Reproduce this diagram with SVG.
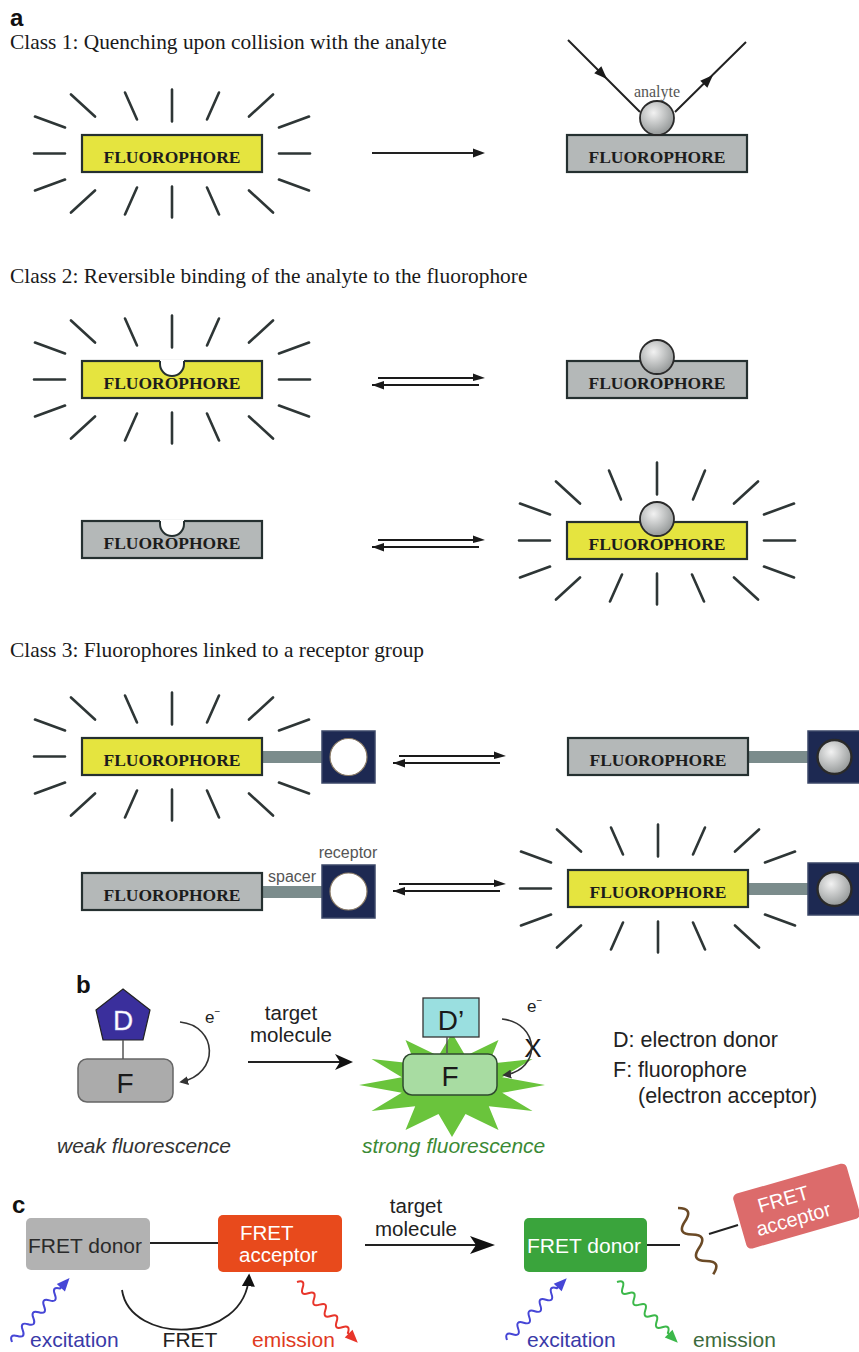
<svg xmlns="http://www.w3.org/2000/svg" width="859" height="1352" viewBox="0 0 859 1352">
<style>
.ray{fill:none;stroke:#2e3636;stroke-width:2.6;stroke-linecap:round}
.by{fill:#e5e43f;stroke:#253030;stroke-width:2.2}
.bg{fill:#b4b8b8;stroke:#253030;stroke-width:2.2}
.fl{font-family:"Liberation Serif","Times New Roman",serif;font-weight:bold;font-size:17.5px;fill:#1c1c1c;text-anchor:middle}
.hd{font-family:"Liberation Serif","Times New Roman",serif;font-size:21.4px;fill:#1a1a1a}
.ball{fill:url(#ball);stroke:#2a2a2a;stroke-width:1.8}
.spacer{fill:#7b8c8c}
.rec{fill:#1d2952;stroke:#3b4768;stroke-width:1.5}
.hole{fill:#fff;stroke:#8c7c66;stroke-width:1.2}
.notch{fill:none;stroke:#253030;stroke-width:2}
.small{font-family:"Liberation Serif","Times New Roman",serif;font-size:16px;fill:#555;text-anchor:middle}
.tag{font-family:"Liberation Sans",Arial,sans-serif;font-size:16px;fill:#555;text-anchor:middle}
.lbl{font-family:"Liberation Sans",Arial,sans-serif}
.mid{text-anchor:middle}
.panel{font-family:"Liberation Sans",Arial,sans-serif;font-weight:bold;font-size:24px;fill:#111}
.line{fill:none;stroke:#222;stroke-width:2}
</style>
<defs>
  <radialGradient id="ball" cx="0.4" cy="0.35" r="0.7">
    <stop offset="0" stop-color="#f2f2f2"/>
    <stop offset="1" stop-color="#8f9393"/>
  </radialGradient>
  <!-- glow rays around a fluorophore, centred on 0,0 -->
  <path id="rays-side" d="M-138,0 H-107 M-137,-37 L-107,-26 M137,-37 L107,-26 M-137,37 L-107,26 M137,37 L107,26 M-101,-59 L-77,-37 M101,-59 L77,-37 M-101,59 L-77,37 M101,59 L77,37 M0,33 V64 M-47,61 L-35,34 M47,61 L35,34"/>
  <path id="rays-top" d="M0,-64 V-32 M-47,-61 L-35,-34 M47,-61 L35,-34"/>
  <path id="rays-top-hi" d="M0,-78 V-46 M-48,-70 L-36,-41 M48,-70 L36,-41"/>
  <path id="ray-right" d="M107,0 H138"/>
  <!-- equilibrium double arrow -->
  <g id="eq">
    <path d="M6,0 H104 M0,7 H107" fill="none" stroke="#1a1a1a" stroke-width="1.8"/>
    <path d="M113,0 L101,-4.5 L101,3 Z M0,7 L12,3 L12,11.5 Z" fill="#1a1a1a"/>
  </g>
  <!-- photon wave with head, along +x -->
  <path id="wave" d="M0,0 q4,-8 8,0 t8,0 t8,0 t8,0 t8,0 t8,0 t8,0 t8,0 t8,0 l2,0"/>
  <path id="wavehead" d="M86,0 L73,-5.5 L73,5.5 Z"/>
  <marker id="ahs" viewBox="0 0 10 10" refX="8" refY="5" markerWidth="9" markerHeight="9" markerUnits="userSpaceOnUse" orient="auto">
    <path d="M0,0 L10,5 L0,10 z" fill="#333"/>
  </marker>
  <marker id="ah" viewBox="0 0 10 10" refX="8" refY="5" markerWidth="13" markerHeight="13" markerUnits="userSpaceOnUse" orient="auto">
    <path d="M0,0 L10,5 L0,10 z" fill="#111"/>
  </marker>
</defs>

<rect width="859" height="1352" fill="#fff"/>

<!-- ===== panel a ===== -->
<text class="panel" x="10" y="26">a</text>
<text class="hd" x="10" y="49">Class 1: Quenching upon collision with the analyte</text>
<text class="hd" x="10" y="283">Class 2: Reversible binding of the analyte to the fluorophore</text>
<text class="hd" x="10" y="657">Class 3: Fluorophores linked to a receptor group</text>

<!-- class 1 -->
<g id="c1-bright">
  <g class="ray"><use href="#rays-side" x="172" y="153.5"/><use href="#rays-top" x="172" y="153.5"/><use href="#ray-right" x="172" y="153.5"/></g>
  <rect class="by" x="82" y="135" width="180" height="37"/>
  <text class="fl" x="172" y="163">FLUOROPHORE</text>
</g>
<g id="c1-quenched">
  <rect class="bg" x="567" y="135" width="180" height="37"/>
  <text class="fl" x="657" y="163">FLUOROPHORE</text>
  <circle class="ball" cx="657" cy="118" r="17"/>
  <text class="small" x="657" y="97">analyte</text>
</g>

<!-- class 2 -->
<g id="c2-free-bright">
  <g class="ray"><use href="#rays-side" x="172" y="379.5"/><use href="#rays-top" x="172" y="379.5"/><use href="#ray-right" x="172" y="379.5"/></g>
  <rect class="by" x="82" y="361" width="180" height="37"/>
  <text class="fl" x="172" y="389">FLUOROPHORE</text>
  <path d="M160,359.5 V364 A12,12 0 0 0 184,364 V359.5 Z" fill="#fff"/>
  <path class="notch" d="M160,361 V364 A12,12 0 0 0 184,364 V361"/>
</g>
<g id="c2-bound-dark">
  <rect class="bg" x="567" y="361" width="180" height="37"/>
  <circle class="ball" cx="657" cy="357" r="17"/>
  <text class="fl" x="657" y="389">FLUOROPHORE</text>
</g>
<g id="c2-free-dark">
  <rect class="bg" x="82" y="521" width="180" height="37"/>
  <text class="fl" x="172" y="549">FLUOROPHORE</text>
  <path d="M160,519.5 V524 A12,12 0 0 0 184,524 V519.5 Z" fill="#fff"/>
  <path class="notch" d="M160,521 V524 A12,12 0 0 0 184,524 V521"/>
</g>
<g id="c2-bound-bright">
  <g class="ray"><use href="#rays-side" x="657" y="540.5"/><use href="#rays-top-hi" x="657" y="540.5"/><use href="#ray-right" x="657" y="540.5"/></g>
  <rect class="by" x="567" y="522" width="180" height="37"/>
  <circle class="ball" cx="657" cy="519" r="17"/>
  <text class="fl" x="657" y="550">FLUOROPHORE</text>
</g>

<!-- class 3 -->
<g id="c3-free-bright">
  <g class="ray"><use href="#rays-side" x="172" y="756.5"/><use href="#rays-top" x="172" y="756.5"/></g>
  <rect class="spacer" x="262" y="751" width="60" height="12"/>
  <rect class="by" x="82" y="738" width="180" height="37"/>
  <text class="fl" x="172" y="766">FLUOROPHORE</text>
  <rect class="rec" x="322" y="731" width="53" height="52"/>
  <circle class="hole" cx="348.5" cy="757" r="18.5"/>
</g>
<g id="c3-bound-dark">
  <rect class="spacer" x="748" y="751" width="60" height="12"/>
  <rect class="bg" x="568" y="738" width="180" height="37"/>
  <text class="fl" x="658" y="766">FLUOROPHORE</text>
  <rect class="rec" x="808" y="731" width="52" height="52"/>
  <circle class="ball" cx="834.5" cy="757" r="17" style="stroke-width:2.4"/>
</g>
<g id="c3-free-dark">
  <rect class="spacer" x="262" y="886" width="60" height="12"/>
  <rect class="bg" x="82" y="873" width="180" height="37"/>
  <text class="fl" x="172" y="901">FLUOROPHORE</text>
  <rect class="rec" x="322" y="865" width="53" height="53"/>
  <circle class="hole" cx="348.5" cy="891.5" r="18.5"/>
  <text class="tag" x="348" y="858">receptor</text>
  <text class="tag" x="292" y="882">spacer</text>
</g>
<g id="c3-bound-bright">
  <g class="ray"><use href="#rays-side" x="658" y="888.5"/><use href="#rays-top" x="658" y="888.5"/></g>
  <rect class="spacer" x="748" y="883" width="60" height="12"/>
  <rect class="by" x="568" y="870" width="180" height="37"/>
  <text class="fl" x="658" y="898">FLUOROPHORE</text>
  <rect class="rec" x="808" y="863" width="52" height="52"/>
  <circle class="ball" cx="834.5" cy="889" r="17" style="stroke-width:2.4"/>
</g>

<!-- ===== panel b ===== -->
<text class="panel" x="76" y="993">b</text>
<g id="b-donor-f">
  <polygon points="123,989 150,1010 143,1040 103,1040 96,1010" fill="#3a2f9c" stroke="#222" stroke-width="1.2"/>
  <text class="lbl mid" x="123" y="1030" font-size="28" fill="#fff" stroke="#d0d0ee" stroke-width="0.4">D</text>
  <rect x="78" y="1059" width="95" height="43" rx="9" fill="#ababab" stroke="#666" stroke-width="1.5"/>
  <text class="lbl mid" x="125" y="1093" font-size="28" fill="#1a1a1a">F</text>
  <text class="lbl" x="205" y="1023" font-size="17" fill="#222">e<tspan dy="-8" font-size="10">−</tspan></text>
</g>
<g id="b-bound">
  <polygon points="545,1085 502.2,1092.8 532.5,1111 488.8,1106.2 498.5,1130 465.5,1114 452,1137 438.5,1114 405.5,1130 415.2,1106.2 371.5,1111 401.8,1092.8 359,1085 401.8,1077.2 371.5,1059 415.2,1063.8 405.5,1040 438.5,1056 452,1033 465.5,1056 498.5,1040 488.8,1063.8 532.5,1059 502.2,1077.2" fill="#6ac43c"/>
  <rect x="423" y="998" width="56" height="39" fill="#9adfe0" stroke="#333" stroke-width="1.3"/>
  <text class="lbl mid" x="451" y="1030" font-size="28" fill="#1a1a1a">D’</text>
  <rect x="403" y="1054" width="94" height="41" rx="9" fill="#a8dca2" stroke="#2f4a2f" stroke-width="1.5"/>
  <text class="lbl mid" x="450" y="1086" font-size="28" fill="#1a1a1a">F</text>
  <text class="lbl" x="527" y="1012" font-size="17" fill="#222">e<tspan dy="-8" font-size="10">−</tspan></text>
  <text class="lbl mid" x="533" y="1057" font-size="26" fill="#1a1a1a">X</text>
</g>
<g id="b-legend" class="lbl" font-size="21.5" fill="#222">
  <text x="613" y="1047">D: electron donor</text>
  <text x="613" y="1077">F: fluorophore</text>
  <text x="638" y="1103">(electron acceptor)</text>
</g>
<text class="lbl" x="57" y="1153" font-size="21" font-style="italic" fill="#333">weak fluorescence</text>
<text class="lbl" x="362" y="1153" font-size="21" font-style="italic" fill="#3b8a35">strong fluorescence</text>
<text class="lbl mid" x="291" y="1020" font-size="20.5" fill="#222">target</text>
<text class="lbl mid" x="291" y="1042" font-size="20.5" fill="#222">molecule</text>

<!-- ===== panel c ===== -->
<text class="panel" x="12" y="1213">c</text>
<g id="c-donor">
  <rect x="26" y="1218" width="124" height="52" rx="5" fill="#b2b2b2"/>
  <text class="lbl" x="28" y="1253" font-size="21" fill="#2a2a2a">FRET donor</text>
</g>
<g id="c-acceptor">
  <rect x="218" y="1215" width="124" height="57" rx="5" fill="#e84a1c"/>
  <text class="lbl" x="240" y="1240" font-size="20.5" fill="#fff">FRET</text>
  <text class="lbl" x="239" y="1262" font-size="20.5" fill="#fff">acceptor</text>
</g>
<g id="c-donor-free">
  <rect x="524" y="1218" width="123" height="54" rx="5" fill="#3aa43c"/>
  <text class="lbl" x="527" y="1253" font-size="21" fill="#fff">FRET donor</text>
</g>
<g id="c-acceptor-free" transform="translate(732,1195) rotate(-16)">
  <rect x="0" y="0" width="118" height="57" rx="5" fill="#dc6b6b"/>
  <text class="lbl" x="22" y="25" font-size="20" fill="#fff">FRET</text>
  <text class="lbl" x="14" y="47" font-size="20" fill="#fff">acceptor</text>
</g>
<text class="lbl mid" x="416" y="1213" font-size="20.5" fill="#222">target</text>
<text class="lbl mid" x="416" y="1236" font-size="20.5" fill="#222">molecule</text>
<text class="lbl" x="30" y="1347" font-size="21" fill="#3a3aa8">excitation</text>
<text class="lbl mid" x="190" y="1347" font-size="21" fill="#222">FRET</text>
<text class="lbl" x="252" y="1347" font-size="21" fill="#e03a1e">emission</text>
<text class="lbl" x="527" y="1347" font-size="21" fill="#3a3aa8">excitation</text>
<text class="lbl" x="693" y="1347" font-size="21" fill="#3d6b3d">emission</text>

<!-- ===== connectors ===== -->
<g id="connectors">
  <!-- panel a -->
  <path class="line" d="M372,153 H476" stroke-width="1.8"/>
  <path d="M485,153 L473,148.5 L473,157.5 Z" fill="#1a1a1a"/>
  <path class="line" d="M568,40 L640,112 M675,112 L746,42"/>
  <path d="M0,0 L-13,-5 L-13,5 Z" fill="#1a1a1a" transform="translate(607,79) rotate(45)"/>
  <path d="M0,0 L-13,-5 L-13,5 Z" fill="#1a1a1a" transform="translate(713,75) rotate(-45)"/>
  <use href="#eq" x="372" y="378"/>
  <use href="#eq" x="372" y="540"/>
  <use href="#eq" x="393" y="756"/>
  <use href="#eq" x="393" y="884"/>
  <!-- panel b -->
  <path d="M123,1040 V1059" stroke="#555" stroke-width="1.5"/>
  <path d="M447,1037 V1054" stroke="#555" stroke-width="1.5"/>
  <path d="M180,1022 C218,1026 220,1074 181,1082" fill="none" stroke="#333" stroke-width="1.6" marker-end="url(#ahs)"/>
  <path d="M502,1019 C540,1023 542,1070 504,1075" fill="none" stroke="#333" stroke-width="1.6" marker-end="url(#ahs)"/>
  <path class="line" d="M248,1062 H341"/>
  <path d="M353,1062 L335,1054 L340,1062 L335,1070 Z" fill="#111"/>
  <!-- panel c -->
  <path class="line" d="M150,1243 H218"/>
  <path class="line" d="M365,1245 H482"/>
  <path d="M495,1245 L470,1236 L476,1245 L470,1254 Z" fill="#111"/>
  <path d="M122,1290 C130,1345 245,1345 249,1276" fill="none" stroke="#222" stroke-width="1.8" marker-end="url(#ah)"/>
  <path class="line" d="M647,1245 H680"/>
  <path d="M0,0 q7.5,-14 15,0 t15,0 t15,0 t15,0 t15,0" transform="translate(678,1208) rotate(62)" fill="none" stroke="#6b4a26" stroke-width="2.6"/>
  <path class="line" d="M709,1234 L738,1225"/>
  <g transform="translate(12,1342) rotate(-48)"><use href="#wave" fill="none" stroke="#4646d6" stroke-width="2"/><use href="#wavehead" fill="#4646d6"/></g>
  <g transform="translate(297,1282) rotate(45)"><use href="#wave" fill="none" stroke="#e8352a" stroke-width="2"/><use href="#wavehead" fill="#e8352a"/></g>
  <g transform="translate(507,1340) rotate(-46)"><use href="#wave" fill="none" stroke="#4646d6" stroke-width="2"/><use href="#wavehead" fill="#4646d6"/></g>
  <g transform="translate(617,1282) rotate(45)"><use href="#wave" fill="none" stroke="#3cb84a" stroke-width="2"/><use href="#wavehead" fill="#3cb84a"/></g>
</g>
</svg>
